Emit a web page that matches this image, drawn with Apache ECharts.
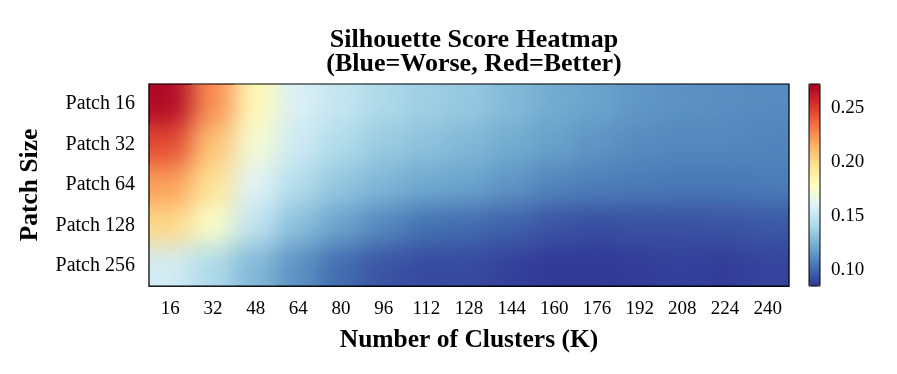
<!DOCTYPE html>
<html>
<head>
<meta charset="utf-8">
<script src="https://cdn.jsdelivr.net/npm/echarts@6/dist/echarts.min.js"></script>
<style>
    body { margin: 0; background: #fff; }
    #wrap { position: relative; width: 897px; height: 374px; }
    #main { position: absolute; left: 0; top: 0; width: 897px; height: 374px; }
    #smooth-clip { position: absolute; left: 150px; top: 85px; width: 638px; height: 200px; overflow: hidden; pointer-events: none; }
    #smooth { position: absolute; left: -150px; top: -85px; width: 897px; height: 374px; filter: url(#smoothing); }
</style>
</head>
<body>
<svg width="0" height="0" style="position:absolute">
    <filter id="smoothing" x="0" y="0" width="1" height="1" color-interpolation-filters="sRGB">
        <feGaussianBlur stdDeviation="13"/>
        <feComponentTransfer>
            <feFuncA type="table" tableValues="1 1"/>
        </feComponentTransfer>
    </filter>
</svg>
<div id="wrap">
    <div id="main"></div>
    <div id="smooth-clip"><div id="smooth"></div></div>
</div>
<script>
const clusters = ['16', '32', '48', '64', '80', '96', '112', '128', '144', '160', '176', '192', '208', '224', '240'];
const patches = ['Patch 16', 'Patch 32', 'Patch 64', 'Patch 128', 'Patch 256'];

// silhouette score per patch size, one value per K
const patch16 = [0.268, 0.225, 0.182, 0.158, 0.150, 0.142, 0.137, 0.134, 0.128, 0.122, 0.119, 0.115, 0.113, 0.112, 0.111];
const patch32 = [0.245, 0.208, 0.172, 0.153, 0.143, 0.135, 0.131, 0.127, 0.122, 0.118, 0.114, 0.111, 0.110, 0.110, 0.109];
const patch64 = [0.220, 0.195, 0.160, 0.144, 0.133, 0.126, 0.121, 0.119, 0.114, 0.109, 0.107, 0.106, 0.105, 0.105, 0.106];
const patch128 = [0.200, 0.175, 0.148, 0.130, 0.119, 0.110, 0.103, 0.101, 0.098, 0.094, 0.092, 0.093, 0.093, 0.094, 0.095];
const patch256 = [0.155, 0.142, 0.127, 0.113, 0.101, 0.094, 0.091, 0.091, 0.088, 0.086, 0.086, 0.087, 0.088, 0.087, 0.089];

const colorbarTicks = [0.10, 0.15, 0.20, 0.25];
const scoreMin = 0.085;
const scoreMax = 0.272;

const rdylbuR = ['#313695', '#4575b4', '#74add1', '#abd9e9', '#e0f3f8', '#ffffbf',
    '#fee090', '#fdae61', '#f46d43', '#d73027', '#a50026'];

const font = 'Liberation Serif';

let rows = [patch16, patch32, patch64, patch128, patch256];
let data = [];
rows.forEach((row, y) => {
    row.forEach((v, x) => data.push([x, y, v]));
});

let plot = { left: 149, top: 84, width: 640, height: 202 };

let mainChart = echarts.init(document.getElementById('main'));
let option = {
    animation: false,
    backgroundColor: '#fff',
    title: {
        text: 'Silhouette Score Heatmap\n(Blue=Worse, Red=Better)',
        left: 469,
        top: 23,
        textAlign: 'center',
        textStyle: { fontFamily: font, fontWeight: 'bold', fontSize: 26, lineHeight: 24, color: '#000' }
    },
    grid: [
        Object.assign({ show: true, borderColor: '#000', borderWidth: 1.2, backgroundColor: 'transparent', z: 5 }, plot),
        { left: 809, top: 84, width: 11, height: 202, show: true, borderColor: '#000', borderWidth: 1, z: 5 }
    ],
    xAxis: [
        {
            type: 'category',
            data: clusters,
            gridIndex: 0,
            axisLine: { lineStyle: { color: '#000', width: 1.2 } },
            axisTick: { alignWithLabel: true, length: 6, lineStyle: { color: '#000' } },
            axisLabel: { fontFamily: font, fontSize: 19, color: '#000', margin: 14 },
            splitLine: { show: false },
            name: 'Number of Clusters (K)',
            nameLocation: 'middle',
            nameGap: 41,
            nameTextStyle: { fontFamily: font, fontWeight: 'bold', fontSize: 25.5, color: '#000' }
        },
        { type: 'value', gridIndex: 1, show: false }
    ],
    yAxis: [
        {
            type: 'category',
            data: patches,
            inverse: true,
            gridIndex: 0,
            axisLine: { lineStyle: { color: '#000', width: 1.2 } },
            axisTick: { alignWithLabel: true, length: 6, lineStyle: { color: '#000' } },
            axisLabel: { fontFamily: font, fontSize: 20, color: '#000', margin: 14 },
            splitLine: { show: false },
            name: 'Patch Size',
            nameLocation: 'middle',
            nameGap: 106,
            nameTextStyle: { fontFamily: font, fontWeight: 'bold', fontSize: 25.5, color: '#000' }
        },
        {
            type: 'value',
            gridIndex: 1,
            position: 'right',
            min: scoreMin,
            max: scoreMax,
            axisLine: { show: false },
            axisTick: { show: true, length: 5, customValues: colorbarTicks, lineStyle: { color: '#000' } },
            axisLabel: {
                fontFamily: font, fontSize: 19, color: '#000', margin: 11,
                customValues: colorbarTicks,
                formatter: v => v.toFixed(2)
            },
            splitLine: { show: false }
        }
    ],
    visualMap: {
        type: 'continuous',
        min: scoreMin,
        max: scoreMax,
        seriesIndex: 0,
        calculable: false,
        orient: 'vertical',
        left: 809,
        top: 84,
        itemWidth: 11,
        itemHeight: 202,
        padding: 0,
        text: null,
        hoverLink: false,
        inRange: { color: rdylbuR }
    },
    series: [
        {
            type: 'heatmap',
            xAxisIndex: 0,
            yAxisIndex: 0,
            data: data,
            itemStyle: { borderWidth: 0 }
        }
    ]
};
mainChart.setOption(option);

// same heatmap drawn again and smoothed by the svg filter, over the plot area
let smoothChart = echarts.init(document.getElementById('smooth'));
smoothChart.setOption({
    animation: false,
    grid: plot,
    xAxis: { type: 'category', data: clusters, show: false },
    yAxis: { type: 'category', data: patches, inverse: true, show: false },
    visualMap: { type: 'continuous', min: scoreMin, max: scoreMax, show: false, inRange: { color: rdylbuR } },
    series: [{ type: 'heatmap', data: data }]
});
</script>
</body>
</html>
